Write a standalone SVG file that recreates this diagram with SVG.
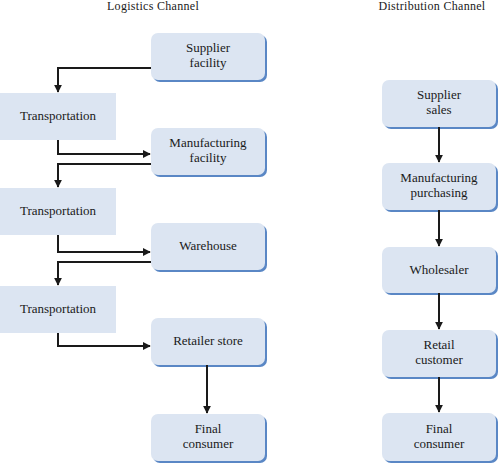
<svg xmlns="http://www.w3.org/2000/svg" width="500" height="463" viewBox="0 0 500 463">
<defs>
<style>
text{font-family:'Liberation Serif','DejaVu Serif','Times New Roman',serif;fill:#1a1a1a;text-anchor:middle}
.t{font-size:13px}
.h{font-size:12px;letter-spacing:0.3px}
.box{fill:#dce5f2}
.sh{fill:#5a87c5}
.tr{fill:#dce5f2}
.c{fill:none;stroke:#1a1a1a;stroke-width:2}
</style>
<marker id="ah" viewBox="0 0 10 10" refX="9" refY="5" markerWidth="4" markerHeight="4" orient="auto" markerUnits="strokeWidth">
<path d="M0,0 L10,5 L0,10 z" fill="#1a1a1a"/>
</marker>
</defs>
<rect width="500" height="463" fill="#ffffff"/>
<text class="h" x="153" y="10">Logistics Channel</text>
<text class="h" x="432" y="10">Distribution Channel</text>

<g id="supplier-facility"><rect class="sh" x="153" y="35" width="114" height="47" rx="7"/><rect class="box" x="151" y="33" width="114" height="47" rx="7"/><text class="t" x="208" y="52">Supplier</text><text class="t" x="208" y="67">facility</text></g>
<g id="transportation-1"><rect class="tr" x="0" y="93" width="116" height="47"/><text class="t" x="58" y="120">Transportation</text></g>
<g id="manufacturing-facility"><rect class="sh" x="153" y="130" width="114" height="47" rx="7"/><rect class="box" x="151" y="128" width="114" height="47" rx="7"/><text class="t" x="208" y="147">Manufacturing</text><text class="t" x="208" y="162">facility</text></g>
<g id="transportation-2"><rect class="tr" x="0" y="188" width="116" height="47"/><text class="t" x="58" y="215">Transportation</text></g>
<g id="warehouse"><rect class="sh" x="153" y="225" width="114" height="47" rx="7"/><rect class="box" x="151" y="223" width="114" height="47" rx="7"/><text class="t" x="208" y="250">Warehouse</text></g>
<g id="transportation-3"><rect class="tr" x="0" y="286" width="116" height="47"/><text class="t" x="58" y="313">Transportation</text></g>
<g id="retailer-store"><rect class="sh" x="153" y="320" width="114" height="47" rx="7"/><rect class="box" x="151" y="318" width="114" height="47" rx="7"/><text class="t" x="208" y="345">Retailer store</text></g>
<g id="final-consumer-l"><rect class="sh" x="153" y="416" width="114" height="47" rx="7"/><rect class="box" x="151" y="414" width="114" height="47" rx="7"/><text class="t" x="208" y="433">Final</text><text class="t" x="208" y="448">consumer</text></g>

<g id="supplier-sales"><rect class="sh" x="384" y="82" width="114" height="47" rx="7"/><rect class="box" x="382" y="80" width="114" height="47" rx="7"/><text class="t" x="439" y="99">Supplier</text><text class="t" x="439" y="114">sales</text></g>
<g id="manufacturing-purchasing"><rect class="sh" x="384" y="165" width="114" height="47" rx="7"/><rect class="box" x="382" y="163" width="114" height="47" rx="7"/><text class="t" x="439" y="182">Manufacturing</text><text class="t" x="439" y="197">purchasing</text></g>
<g id="wholesaler"><rect class="sh" x="384" y="249" width="114" height="46" rx="7"/><rect class="box" x="382" y="247" width="114" height="46" rx="7"/><text class="t" x="439" y="274">Wholesaler</text></g>
<g id="retail-customer"><rect class="sh" x="384" y="332" width="114" height="47" rx="7"/><rect class="box" x="382" y="330" width="114" height="47" rx="7"/><text class="t" x="439" y="349">Retail</text><text class="t" x="439" y="364">customer</text></g>
<g id="final-consumer-r"><rect class="sh" x="384" y="415" width="114" height="48" rx="7"/><rect class="box" x="382" y="413" width="114" height="48" rx="7"/><text class="t" x="439" y="433">Final</text><text class="t" x="439" y="448">consumer</text></g>

<g id="connectors">
<path class="c" d="M151,68 H58 V92" marker-end="url(#ah)"/>
<path class="c" d="M58,140 V154 H150" marker-end="url(#ah)"/>
<path class="c" d="M151,164 H58 V187" marker-end="url(#ah)"/>
<path class="c" d="M58,235 V252 H150" marker-end="url(#ah)"/>
<path class="c" d="M151,262 H58 V285" marker-end="url(#ah)"/>
<path class="c" d="M58,333 V346 H150" marker-end="url(#ah)"/>
<path class="c" d="M207,365 V413" marker-end="url(#ah)"/>
<path class="c" d="M439,127 V162" marker-end="url(#ah)"/>
<path class="c" d="M439,210 V246" marker-end="url(#ah)"/>
<path class="c" d="M439,293 V329" marker-end="url(#ah)"/>
<path class="c" d="M439,377 V412" marker-end="url(#ah)"/>
</g>
</svg>
